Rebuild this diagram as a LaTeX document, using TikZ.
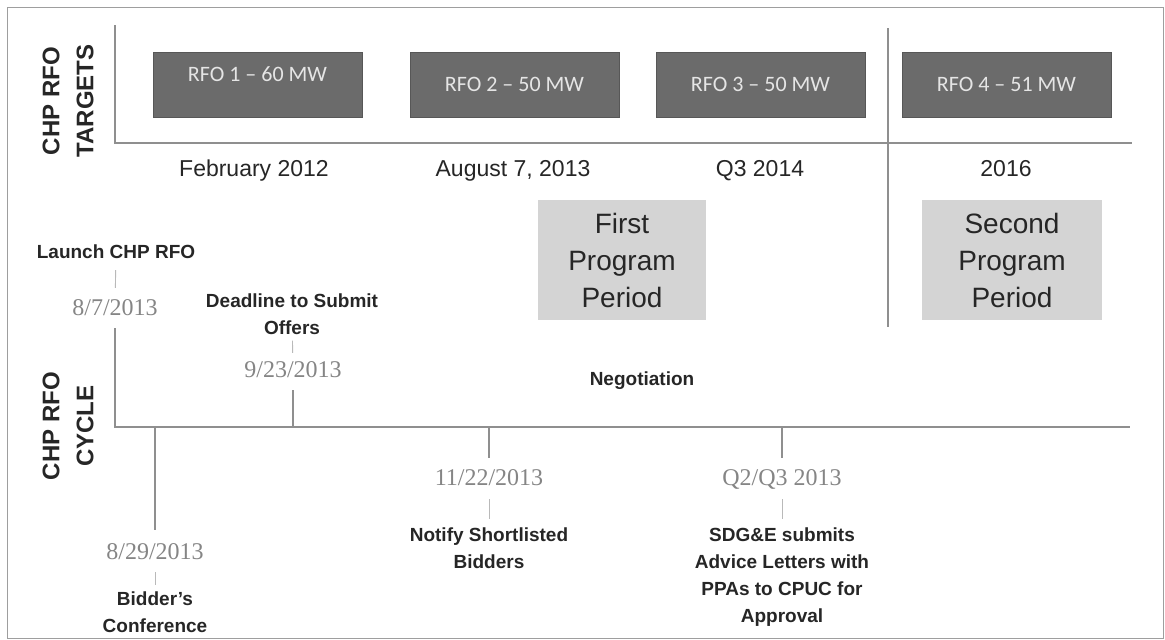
\documentclass[tikz,border=0pt]{standalone}
\usepackage{fontspec}
\setmainfont{Liberation Sans}
\newfontfamily\calibfont{Carlito}
\newfontfamily\seriffont{Liberation Serif}
\definecolor{axisgray}{gray}{0.56}
\definecolor{rfofill}{gray}{0.42}
\definecolor{rfoedge}{gray}{0.34}
\definecolor{rfotext}{gray}{0.90}
\definecolor{perfill}{gray}{0.83}
\definecolor{datecol}{gray}{0.52}
\definecolor{framecol}{gray}{0.62}
\definecolor{inkcol}{gray}{0.15}
\begin{document}
\begin{tikzpicture}[x=1pt,y=-1pt,
  axisline/.style={draw=axisgray, line width=2.6pt},
  stemline/.style={draw=axisgray, line width=2.2pt},
  tickline/.style={draw=gray!55, line width=0.9pt},
  rfobox/.style={fill=rfofill, draw=rfoedge, line width=0.8pt, minimum width=209pt, minimum height=65pt, inner sep=0pt},
  rfotxt/.style={text=rfotext, font=\calibfont\fontsize{22}{26}\selectfont, inner sep=0pt},
  topdate/.style={text=inkcol, font=\fontsize{23}{26}\selectfont, text height=17pt, text depth=5pt},
  perbox/.style={fill=perfill, minimum height=120pt, inner sep=0pt, align=center, text=inkcol, font=\fontsize{28}{37}\selectfont},
  evt/.style={align=center, text=inkcol, font=\bfseries\fontsize{19}{27}\selectfont, inner sep=2pt},
  dt/.style={text=datecol, font=\seriffont\fontsize{24}{26}\selectfont, inner sep=2pt, text height=17pt, text depth=5pt},
  axlbl/.style={rotate=90, align=center, text=inkcol, font=\bfseries\fontsize{24}{34}\selectfont}
]
\useasboundingbox (0,0) rectangle (1165,640);
\draw[framecol, line width=1pt] (7,7) rectangle (1163,638);

% axis labels
\node[axlbl] (tlab) at (68,101) {CHP RFO\\TARGETS};
\node[axlbl] (clab) at (68,426) {CHP RFO\\CYCLE};

% top axis
\coordinate (tT) at (115,25);
\coordinate (tO) at (115,143);
\coordinate (tE) at (1132,143);
\draw[axisline] (tT) -- (tO) -- (tE);
\coordinate (dT) at (888,28);
\coordinate (dB) at (888,327);
\draw[axisline] (dT) -- (dB);

% RFO boxes
\node[rfobox, label={[rfotxt, yshift=10pt]center:RFO 1 – 60 MW}] (r1) at (257.5,84.5) {};
\node[rfobox, label={[rfotxt]center:RFO 2 – 50 MW}] (r2) at (514.5,84.5) {};
\node[rfobox, label={[rfotxt]center:RFO 3 – 50 MW}] (r3) at (760.5,84.5) {};
\node[rfobox, label={[rfotxt]center:RFO 4 – 51 MW}] (r4) at (1006.5,84.5) {};

% top dates
\node[topdate] (dfeb) at (254,170) {February 2012};
\node[topdate] (daug) at (513,170) {August 7, 2013};
\node[topdate] (dq3) at (760,170) {Q3 2014};
\node[topdate] (d16) at (1006,170) {2016};

% program periods
\node[perbox, minimum width=168pt] (p1) at (622,260) {First\\Program\\Period};
\node[perbox, minimum width=180pt] (p2) at (1012,260) {Second\\Program\\Period};

% cycle axis
\coordinate (cA) at (115,328);
\coordinate (cO) at (115,427);
\coordinate (cE) at (1130,427);
\draw[axisline] (cA) -- (cO) -- (cE);

% events above
\node[evt] (launch) at (116,252) {Launch CHP RFO};
\node[dt] (d87) at (115,309) {8/7/2013};
\draw[tickline, shorten <=9pt, shorten >=8pt] (launch) -- (d87);

\node[evt] (dead) at (292,314) {Deadline to Submit\\Offers};
\node[dt] (d923) at (293,371) {9/23/2013};
\draw[tickline, shorten <=4pt, shorten >=5pt] (dead) -- (d923);
\coordinate (a923) at (293,427);
\draw[stemline, shorten <=6pt] (d923) -- (a923);

\node[evt] (nego) at (642,381) {Negotiation};

% events below
\coordinate (a829) at (155,427);
\node[dt] (d829) at (155,553) {8/29/2013};
\draw[stemline, shorten >=10pt] (a829) -- (d829);
\node[evt] (bidc) at (155,612) {Bidder’s\\Conference};
\draw[tickline, shorten <=6pt, shorten >=4pt] (d829) -- (bidc);

\coordinate (a1122) at (489,427);
\node[dt] (d1122) at (489,479) {11/22/2013};
\draw[stemline, shorten >=8pt] (a1122) -- (d1122);
\node[evt] (notify) at (489,548) {Notify Shortlisted\\Bidders};
\draw[tickline, shorten <=7pt, shorten >=6pt] (d1122) -- (notify);

\coordinate (aq) at (782,427);
\node[dt] (dq) at (782,479) {Q2/Q3 2013};
\draw[stemline, shorten >=8pt] (aq) -- (dq);
\node[evt] (sdge) at (782,577) {SDG\&E submits\\Advice Letters with\\PPAs to CPUC for\\Approval};
\draw[tickline, shorten <=7pt, shorten >=6pt] (dq) -- (sdge);
\end{tikzpicture}
\end{document}
